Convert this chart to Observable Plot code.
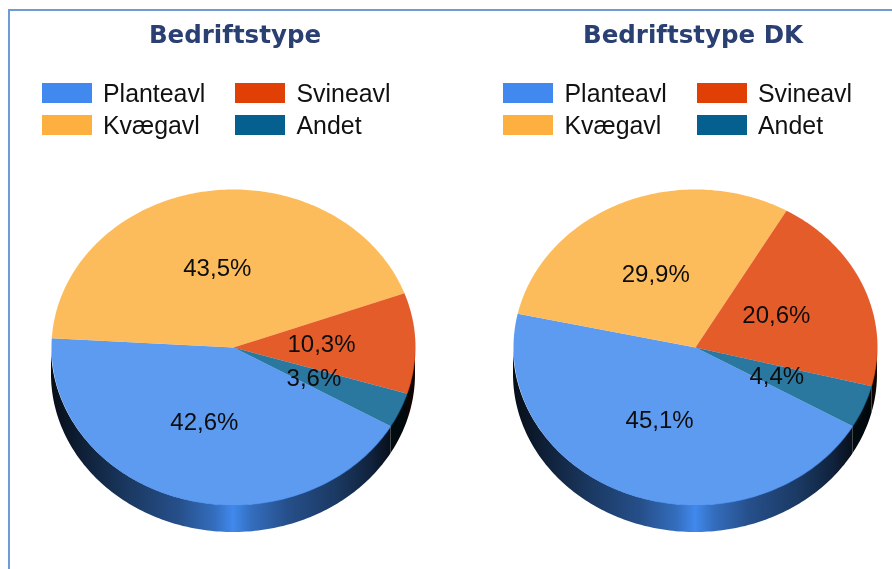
<!DOCTYPE html>
<html>
<head>
<meta charset="utf-8">
<script src="https://cdn.jsdelivr.net/npm/d3@7"></script>
<script src="https://cdn.jsdelivr.net/npm/@observablehq/plot@0.6"></script>
<style>
  html, body { margin: 0; padding: 0; background: #fff; overflow: hidden; }
  #root { position: relative; width: 892px; height: 569px; overflow: hidden; filter: blur(0.55px); }
  #frame { position: absolute; left: 8px; top: 9px; width: 900px; height: 600px; border: 2px solid #6f9ad6; box-sizing: border-box; }
  .panel { position: absolute; top: 0; width: 446px; height: 569px; }
  .title { position: absolute; top: 22px; width: 300px; text-align: center; font: bold 24.5px "DejaVu Sans", sans-serif; color: #2a3f72; line-height: 26px; white-space: nowrap; }
  .swatch { position: absolute; width: 50px; height: 20px; }
  .ltext { position: absolute; font: 24.9px/30px "Liberation Sans", Arial, sans-serif; color: #111; white-space: nowrap; }
  .panel svg { position: absolute; left: 0; top: 160px; background: transparent; overflow: visible; }
</style>
</head>
<body>
<div id="root"><div id="frame"></div></div>
<script>
// Data
const categories = ["Planteavl", "Kvægavl", "Svineavl", "Andet"];
const titles = ["Bedriftstype", "Bedriftstype DK"];
const valuesFarm = [42.6, 43.5, 10.3, 3.6];
const valuesDK = [45.1, 29.9, 20.6, 4.4];
const colors = ["#4189ee", "#fdb040", "#e04006", "#05608f"];

const startDeg = 30;      // where the first slice starts, clockwise from east
const depth = 27 / 158;   // wall height, in units of the vertical radius
const rad = Math.PI / 180;
const color = d3.scaleOrdinal(categories, colors);

function sliceAngles(values) {
  const total = d3.sum(values);
  let a = startDeg;
  return categories.map((name, i) => {
    const a0 = a; a += values[i] / total * 360;
    return { name, value: values[i], a0, a1: a };
  });
}
function arcPoints(a0, a1) {
  const n = Math.max(2, Math.ceil((a1 - a0) / 1));
  return d3.range(n + 1).map(i => a0 + (a1 - a0) * i / n);
}

function drawPanel(root, index, panelLeft, centre, values) {
  const panel = document.createElement("div");
  panel.className = "panel";
  panel.style.left = panelLeft + "px";
  root.appendChild(panel);

  const t = document.createElement("div");
  t.className = "title"; t.textContent = titles[index];
  t.style.left = (index === 0 ? 85 : 97) + "px";
  panel.appendChild(t);

  const legendLeft = index === 0 ? 41.5 : 57;
  categories.forEach((name, i) => {
    const col = (i === 0 || i === 1) ? 0 : 1;
    const row = i % 2;
    const s = document.createElement("div");
    s.className = "swatch";
    s.style.left = (legendLeft + col * 193.5) + "px";
    s.style.top = (83 + row * 31.5) + "px";
    s.style.background = colors[i];
    panel.appendChild(s);
    const l = document.createElement("div");
    l.className = "ltext"; l.textContent = name;
    l.style.left = (legendLeft + 61.5 + col * 193.5) + "px";
    l.style.top = (78 + row * 31.5) + "px";
    panel.appendChild(l);
  });

  const slices = sliceAngles(values);
  const topPts = slices.flatMap(s => [
    { name: s.name, x: 0, y: 0 },
    ...arcPoints(s.a0, s.a1).map(a => ({ name: s.name, x: Math.cos(a * rad), y: Math.sin(a * rad) })),
    { name: s.name, x: 0, y: 0 }
  ]);
  const labels = slices.map(s => {
    const m = (s.a0 + s.a1) / 2 * rad;
    return { text: s.value.toFixed(1).replace(".", ",") + "%", x: 0.5 * Math.cos(m), y: 0.5 * Math.sin(m) };
  });
  const walls = slices.map(s => {
    const pts = [];
    for (const k of [0, 360]) {
      const lo = Math.max(s.a0, k), hi = Math.min(s.a1, k + 180);
      if (hi > lo) for (const a of arcPoints(lo, hi)) {
        const y = Math.sin(a * rad);
        pts.push({ x: Math.cos(a * rad), y1: y, y2: y + depth });
      }
    }
    return { name: s.name, pts };
  }).filter(w => w.pts.length);

  const idFor = name => `wall-${index}-${categories.indexOf(name)}`;
  const gradients = (_i, scales) => {
    const defs = d3.create("svg:defs");
    for (const name of categories) {
      const g = defs.append("linearGradient")
        .attr("id", idFor(name)).attr("gradientUnits", "userSpaceOnUse")
        .attr("x1", scales.x(-1)).attr("x2", scales.x(1)).attr("y1", 0).attr("y2", 0);
      const base = d3.rgb(color(name));
      const stops = [[0, .1], [.1, .25], [.22, .42], [.35, .58], [.45, .8], [.5, 1], [.55, .8], [.65, .58], [.78, .42], [.88, .25], [.93, .12], [1, .06]];
      for (const [o, f] of stops) {
        g.append("stop").attr("offset", o)
          .attr("stop-color", d3.rgb(base.r * f, base.g * f, base.b * f).formatHex());
      }
    }
    return defs.node();
  };

  const plot = Plot.plot({
    width: 446, height: 409,
    margin: 0,
    x: { domain: [-1, 1], range: [centre - 182, centre + 182], axis: null },
    y: { domain: [-1, 1], range: [29, 345], axis: null },
    color: { domain: categories, range: colors },
    marks: [
      gradients,
      ...walls.map(w => Plot.area(w.pts, { x1: "x", y1: "y1", y2: "y2", fill: `url(#${idFor(w.name)})` })),
      Plot.line(topPts, { x: "x", y: "y", z: "name", fill: "name", fillOpacity: 0.85, stroke: "none" }),
      Plot.text(labels, { x: "x", y: "y", dx: -3, dy: -1, text: "text", fontSize: 24, fontFamily: "Liberation Sans", fill: "#0d0d0d" })
    ]
  });
  panel.appendChild(plot);
}

const root = document.getElementById("root");
drawPanel(root, 0, 0, 233, valuesFarm);
drawPanel(root, 1, 446, 249, valuesDK);
</script>
</body>
</html>
